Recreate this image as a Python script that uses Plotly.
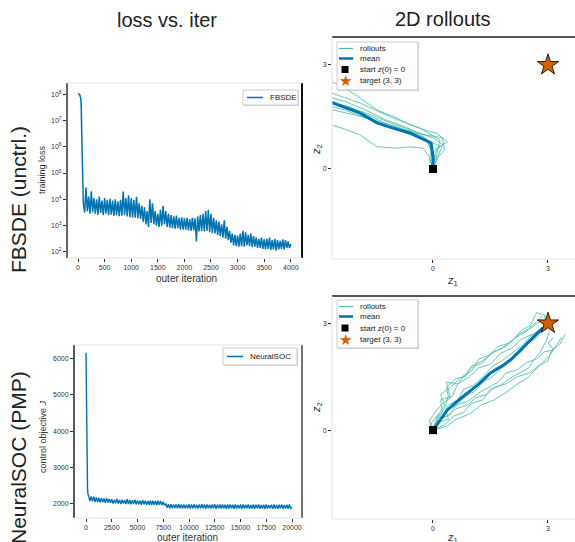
import plotly.graph_objects as go

W, H = 575, 542

# ---------------- data: FBSDE training loss (log10 values) ----------------
fbsde_head_iter = [0, 30, 50, 60, 70, 80, 90, 95]
fbsde_head_log = [8.02, 7.98, 7.85, 7.6, 6.5, 5.5, 4.4, 4.1]
fbsde_block_start = list(range(100, 4000, 50))
fbsde_hi_log = [3.85, 4.45, 4.10, 4.30, 4.05, 4.00, 4.10, 3.95, 4.05, 3.98,
                4.02, 3.95, 4.00, 3.92, 3.98, 4.30, 4.05, 4.15, 4.05, 3.98,
                4.10, 3.85, 3.75, 3.70, 3.55, 4.00, 3.85, 3.55, 3.45, 3.60,
                3.75, 3.55, 3.45, 3.40, 3.35, 3.38, 3.30, 3.32, 3.28, 3.30,
                3.25, 3.30, 3.28, 3.35, 3.40, 3.45, 3.55, 3.60, 3.45, 3.30,
                3.20, 3.15, 3.05, 3.20, 2.95, 2.80, 2.70, 2.65, 2.62, 2.70,
                2.80, 2.75, 2.65, 2.70, 2.60, 2.55, 2.50, 2.55, 2.48, 2.50,
                2.55, 2.45, 2.50, 2.45, 2.42, 2.48, 2.45, 2.40]
fbsde_lo_log = [3.50, 3.55, 3.45, 3.50, 3.45, 3.42, 3.48, 3.40, 3.45, 3.40,
                3.42, 3.38, 3.40, 3.36, 3.38, 3.40, 3.35, 3.32, 3.30, 3.30,
                3.28, 3.25, 3.15, 3.05, 2.95, 3.10, 3.05, 3.00, 2.95, 3.00,
                3.05, 2.95, 2.92, 2.90, 2.88, 2.90, 2.85, 2.85, 2.85, 2.82,
                2.80, 2.82, 2.40, 2.78, 2.80, 2.78, 2.80, 2.75, 2.72, 2.70,
                2.65, 2.60, 2.55, 2.50, 2.45, 2.35, 2.25, 2.22, 2.20, 2.22,
                2.20, 2.25, 2.22, 2.18, 2.20, 2.15, 2.15, 2.12, 2.10, 2.12,
                2.08, 2.10, 2.05, 2.10, 2.12, 2.10, 2.15, 2.15]
fbsde_last_iter = 4000
fbsde_last_log = 2.30

# ---------------- data: NeuralSOC control objective ----------------
soc_head_iter = [0, 50, 100, 150, 200]
soc_head_val = [6150, 4200, 2700, 2400, 2250]
soc_block_start = list(range(250, 20000, 250))
soc_hi = [2230, 2210, 2200,
          2180, 2170, 2160, 2150, 2160, 2140,
          2130, 2120, 2140, 2110, 2120, 2100, 2130, 2110, 2100, 2120,
          2100, 2090, 2110, 2090, 2080, 2100, 2090, 2080, 2090, 2080,
          2060, 2010,
          1990, 1995, 1985, 1990, 2000, 1985, 1990, 1980, 1995, 1985,
          1990, 1980, 1990, 1995, 1985, 1990, 1980, 1985, 1995, 1980,
          1990, 1985, 1980, 1990, 1985, 1980, 1990, 1975, 1985, 1990,
          1980, 1985, 1975, 1990, 1980, 1985, 1975, 1980, 1985, 1975,
          1980, 1985, 1975, 1980, 1990, 1975, 1980, 1985]
soc_lo = [2080, 2070, 2060,
          2050, 2040, 2050, 2030, 2040, 2030,
          2010, 2020, 2010, 2000, 2010, 2000, 2000, 1990, 2000, 1990,
          1990, 1980, 1990, 1980, 1980, 1970, 1980, 1970, 1980, 1970,
          1960, 1900,
          1885, 1880, 1890, 1880, 1885, 1875, 1880, 1885, 1875, 1880,
          1885, 1875, 1880, 1885, 1870, 1880, 1875, 1880, 1870, 1880,
          1875, 1880, 1870, 1875, 1880, 1870, 1875, 1880, 1870, 1875,
          1880, 1870, 1875, 1870, 1880, 1870, 1875, 1870, 1875, 1880,
          1870, 1875, 1870, 1880, 1870, 1875, 1870, 1880]
soc_last_iter = 20000
soc_last_val = 1920

# ---------------- data: 2D rollouts, uncontrolled (FBSDE) ----------------
unc_rollouts_x = [
    [0, -0.09, -0.26, -0.6, -0.94, -1.46, -1.9, -2.3, -2.8],
    [0, 0.02, 0.1, 0.37, 0.1, -0.2, -0.6, -1.0, -1.46, -1.9, -2.35, -2.64, -2.8],
    [0, 0.1, 0.18, -0.34, -1.04, -1.9, -2.64, -2.8],
    [0, 0.05, -0.1, -0.3, -0.7, -1.2, -1.8, -2.3, -2.8],
    [0, -0.1, -0.05, -0.15, -0.5, -1.1, -1.7, -2.3, -2.8],
    [0, 0.05, 0.15, 0.25, 0.05, -0.45, -1.0, -1.6, -2.2, -2.8],
    [0, 0.0, -0.05, 0.2, -0.1, -0.3, -0.8, -1.3, -2.0, -2.8],
    [0, 0.1, 0.3, 0.25, -0.4, -0.9, -1.5, -2.0, -2.8],
]
unc_rollouts_y = [
    [0, 0.35, 0.6, 0.64, 0.6, 0.64, 0.98, 1.15, 1.32],
    [0, 0.2, 0.6, 0.78, 1.03, 1.12, 1.27, 1.5, 1.7, 2.05, 2.37, 2.51, 2.6],
    [0, 0.4, 0.84, 1.18, 1.47, 1.9, 2.19, 2.25],
    [0, 0.35, 0.7, 1.0, 1.2, 1.4, 1.72, 1.95, 2.1],
    [0, 0.25, 0.5, 0.8, 0.95, 1.2, 1.45, 1.7, 1.85],
    [0, 0.15, 0.45, 0.7, 0.88, 1.08, 1.28, 1.55, 1.8, 1.95],
    [0, 0.1, 0.45, 0.65, 0.8, 0.95, 1.15, 1.35, 1.7, 2.0],
    [0, 0.3, 0.55, 0.9, 1.02, 1.2, 1.4, 1.55, 1.75],
]
unc_mean_x = [0, 0.0, -0.05, -0.26, -0.6, -1.04, -1.46, -1.9, -2.35, -2.8]
unc_mean_y = [0, 0.35, 0.75, 0.86, 1.04, 1.18, 1.33, 1.61, 1.79, 1.98]

# ---------------- data: 2D rollouts, controlled (NeuralSOC) ----------------
ctl_rollouts_x = [
    [0, 0.15, 0.1, 0.4, 0.6, 0.9, 1.1, 1.4, 1.6, 1.9, 2.2, 2.5, 2.75, 3.0, 3.1, 3.3, 3.45],
    [0, 0.2, 0.4, 0.35, 0.7, 0.9, 1.2, 1.45, 1.7, 1.9, 2.2, 2.45, 2.7, 2.9, 3.15, 3.0, 3.15],
    [0, 0.1, 0.25, 0.2, 0.5, 0.65, 0.8, 1.0, 1.3, 1.5, 1.8, 2.1, 2.3, 2.55, 2.7, 2.9, 2.95],
    [0, 0.1, 0.3, 0.4, 0.35, 0.6, 0.85, 1.0, 1.3, 1.6, 1.9, 2.15, 2.4, 2.65, 2.85, 3.0],
    [0, -0.1, 0.05, 0.25, 0.45, 0.35, 0.65, 0.95, 1.2, 1.5, 1.75, 2.05, 2.3, 2.6, 2.85, 2.95],
    [0, 0.3, 0.55, 0.8, 1.0, 1.3, 1.5, 1.75, 2.0, 2.25, 2.5, 2.65, 2.8, 2.95, 3.05],
    [0, 0.2, 0.45, 0.6, 0.85, 1.1, 1.3, 1.55, 1.8, 2.05, 2.3, 2.5, 2.7, 2.9],
    [0, 0.25, 0.4, 0.65, 0.8, 1.05, 1.35, 1.55, 1.8, 2.1, 2.35, 2.55, 2.8, 3.05, 3.15],
    [0, -0.05, 0.15, 0.3, 0.2, 0.45, 0.75, 1.0, 1.2, 1.45, 1.7, 2.0, 2.25, 2.5, 2.7, 2.85],
    [0, 0.35, 0.6, 0.95, 1.25, 1.6, 1.9, 2.2, 2.45, 2.7, 2.85, 3.05, 3.2, 3.35],
]
ctl_rollouts_y = [
    [0, 0.15, 0.35, 0.4, 0.6, 0.7, 0.9, 1.0, 1.2, 1.3, 1.5, 1.6, 1.8, 1.95, 2.25, 2.4, 2.7],
    [0, 0.25, 0.3, 0.55, 0.75, 0.8, 1.05, 1.2, 1.35, 1.6, 1.7, 1.9, 2.0, 2.2, 2.25, 2.45, 2.6],
    [0, 0.3, 0.5, 0.85, 0.95, 1.3, 1.5, 1.75, 1.9, 2.15, 2.3, 2.55, 2.8, 2.95, 3.3, 3.25, 3.05],
    [0, 0.35, 0.6, 0.95, 1.2, 1.45, 1.5, 1.8, 1.95, 2.2, 2.35, 2.6, 2.75, 2.95, 3.1, 3.0],
    [0, 0.25, 0.5, 0.75, 0.9, 1.35, 1.3, 1.5, 1.75, 1.85, 2.15, 2.3, 2.55, 2.7, 2.85, 3.0],
    [0, 0.15, 0.4, 0.5, 0.75, 0.85, 1.15, 1.25, 1.45, 1.6, 1.75, 2.0, 2.2, 2.5, 2.8],
    [0, 0.3, 0.45, 0.7, 0.95, 1.1, 1.35, 1.5, 1.75, 1.95, 2.2, 2.45, 2.6, 2.9],
    [0, 0.4, 0.7, 0.85, 1.15, 1.25, 1.55, 1.8, 1.95, 2.2, 2.4, 2.65, 2.75, 2.95, 3.1],
    [0, 0.2, 0.45, 0.7, 1.0, 1.2, 1.5, 1.65, 2.0, 2.1, 2.35, 2.45, 2.7, 2.85, 3.05, 3.2],
    [0, 0.1, 0.3, 0.45, 0.7, 0.85, 1.05, 1.3, 1.45, 1.75, 1.9, 2.1, 2.35, 2.6],
]
ctl_mean_x = [0, 0.2, 0.37, 0.62, 0.89, 1.2, 1.49, 1.83, 2.05, 2.27, 2.61, 2.87]
ctl_mean_y = [0, 0.3, 0.56, 0.8, 1.04, 1.3, 1.6, 1.82, 2.0, 2.24, 2.6, 2.88]

start_pt = (0, 0)
target_pt = (3, 3)

# tick labels
fbsde_xticks = [0, 500, 1000, 1500, 2000, 2500, 3000, 3500, 4000]
fbsde_yticks_exp = [2, 3, 4, 5, 6, 7, 8]
soc_xticks = [0, 2500, 5000, 7500, 10000, 12500, 15000, 17500, 20000]
soc_yticks = [2000, 3000, 4000, 5000, 6000]
z_ticks = [0, 3]

# legend labels
rollout_labels = ["rollouts", "mean", "start <i>z</i>(0) = 0", "target (3, 3)"]

# ---------------- colours ----------------
BLUE = "#0173b2"
TEAL = "#4cc2ad"
ORANGE = "#d55e00"
FONT = "Liberation Sans, Arial, sans-serif"


def px(x):
    return x / W


def py(y):
    return 1 - y / H


# assemble the zig-zag series
fb_x = list(fbsde_head_iter)
fb_y = [10 ** v for v in fbsde_head_log]
for s, h, l in zip(fbsde_block_start, fbsde_hi_log, fbsde_lo_log):
    fb_x += [s, s + 25]
    fb_y += [10 ** h, 10 ** l]
fb_x.append(fbsde_last_iter)
fb_y.append(10 ** fbsde_last_log)

so_x = list(soc_head_iter)
so_y = list(soc_head_val)
for s, h, l in zip(soc_block_start, soc_hi, soc_lo):
    so_x += [s, s + 125]
    so_y += [h, l]
so_x.append(soc_last_iter)
so_y.append(soc_last_val)

fig = go.Figure()

fig.add_trace(go.Scatter(x=fb_x, y=fb_y, mode="lines", name="FBSDE",
                         line=dict(color=BLUE, width=1.5), xaxis="x", yaxis="y"))
fig.add_trace(go.Scatter(x=so_x, y=so_y, mode="lines", name="NeuralSOC",
                         line=dict(color=BLUE, width=1.4), xaxis="x3", yaxis="y3"))


def rollout_panel(xs, ys, mx, my, xa, ya):
    for i, (rx, ry) in enumerate(zip(xs, ys)):
        fig.add_trace(go.Scatter(x=rx, y=ry, mode="lines", name="rollouts",
                                 line=dict(color=TEAL, width=1), opacity=0.85,
                                 xaxis=xa, yaxis=ya))
    fig.add_trace(go.Scatter(x=mx, y=my, mode="lines", name="mean",
                             line=dict(color=BLUE, width=3), xaxis=xa, yaxis=ya))
    fig.add_trace(go.Scatter(x=[start_pt[0]], y=[start_pt[1]], mode="markers",
                             name="start",
                             marker=dict(symbol="square", size=8, color="black"),
                             xaxis=xa, yaxis=ya))
    fig.add_trace(go.Scatter(x=[target_pt[0]], y=[target_pt[1]], mode="markers",
                             name="target",
                             marker=dict(symbol="star", size=16, color=ORANGE,
                                         line=dict(color="black", width=0.8)),
                             xaxis=xa, yaxis=ya))


rollout_panel(unc_rollouts_x, unc_rollouts_y, unc_mean_x, unc_mean_y, "x2", "y2")
rollout_panel(ctl_rollouts_x, ctl_rollouts_y, ctl_mean_x, ctl_mean_y, "x4", "y4")

tickfont = dict(size=7, color="#333", family=FONT)
common_ax = dict(showgrid=False, zeroline=False, showline=False, ticks="outside",
                 ticklen=3, tickwidth=1, tickcolor="#333", tickfont=tickfont)

fig.update_layout(
    width=W, height=H, autosize=False, showlegend=False,
    margin=dict(l=0, r=0, t=0, b=0),
    paper_bgcolor="white", plot_bgcolor="white",
    font=dict(family=FONT, color="#222"),
    xaxis=dict(domain=[px(67), px(302)], range=[-207, 4211], anchor="y",
               tickvals=fbsde_xticks, ticktext=[str(v) for v in fbsde_xticks], **common_ax),
    yaxis=dict(domain=[py(258), py(83)], type="log", range=[1.77, 8.42], anchor="x",
               tickvals=[10 ** e for e in fbsde_yticks_exp],
               ticktext=["10<sup>%d</sup>" % e for e in fbsde_yticks_exp], **common_ax),
    xaxis2=dict(domain=[px(332), 1.0], range=[-2.635, 3.705], anchor="y2",
                tickvals=z_ticks, ticktext=[str(v) for v in z_ticks], **common_ax),
    yaxis2=dict(domain=[py(259), py(37)], range=[-2.596, 3.807], anchor="x2",
                tickvals=z_ticks, ticktext=[str(v) for v in z_ticks], **common_ax),
    xaxis3=dict(domain=[px(74), px(302)], range=[-1165, 20971], anchor="y3",
                tickvals=soc_xticks, ticktext=[str(v) for v in soc_xticks], **common_ax),
    yaxis3=dict(domain=[py(518), py(345)], range=[1615, 6365], anchor="x3",
                tickvals=soc_yticks, ticktext=[str(v) for v in soc_yticks], **common_ax),
    xaxis4=dict(domain=[px(332), 1.0], range=[-2.635, 3.705], anchor="y4",
                tickvals=z_ticks, ticktext=[str(v) for v in z_ticks], **common_ax),
    yaxis4=dict(domain=[py(519), py(296)], range=[-2.5, 3.77], anchor="x4",
                tickvals=z_ticks, ticktext=[str(v) for v in z_ticks], **common_ax),
)


# spines
def spine(xa, ya, x0, y0, x1, y1, color, width):
    fig.add_shape(type="line", xref=xa + " domain", yref=ya + " domain",
                  x0=x0, y0=y0, x1=x1, y1=y1, line=dict(color=color, width=width))


LIGHT = "#e3e3e3"
spine("x", "y", 0, 0, 0, 1, "#333333", 1.5)
spine("x", "y", 1, 0, 1, 1, "#111111", 2)
spine("x", "y", 0, 1, 1, 1, LIGHT, 1)
spine("x", "y", 0, 0, 1, 0, LIGHT, 1)

spine("x3", "y3", 0, 0, 0, 1, "#222222", 1.5)
spine("x3", "y3", 1, 0, 1, 1, "#444444", 1.5)
spine("x3", "y3", 0, 1, 1, 1, LIGHT, 1)
spine("x3", "y3", 0, 0, 1, 0, LIGHT, 1)

for xa, ya in (("x2", "y2"), ("x4", "y4")):
    spine(xa, ya, 0, 1, 1, 1, "#555555", 2)
    spine(xa, ya, 0, 0, 0, 1, LIGHT, 1)
    spine(xa, ya, 0, 0, 1, 0, LIGHT, 1)


# text helpers
def ann(text, x, y, size, angle=0, color="#222", xanchor="center"):
    fig.add_annotation(text=text, x=px(x), y=py(y), xref="paper", yref="paper",
                       showarrow=False, textangle=angle, xanchor=xanchor, yanchor="middle",
                       font=dict(size=size, family=FONT, color=color))


def pbox(x0, y0, x1, y1):
    fig.add_shape(type="rect", xref="paper", yref="paper",
                  x0=px(x0 + 1), y0=py(y1 + 1), x1=px(x1 + 1), y1=py(y0 + 1),
                  line=dict(width=0), fillcolor="rgba(0,0,0,0.18)")
    fig.add_shape(type="rect", xref="paper", yref="paper",
                  x0=px(x0), y0=py(y1), x1=px(x1), y1=py(y0),
                  line=dict(color="#cccccc", width=1), fillcolor="rgba(255,255,255,0.95)")


def pline(x0, x1, y, color, width):
    fig.add_shape(type="line", xref="paper", yref="paper",
                  x0=px(x0), y0=py(y), x1=px(x1), y1=py(y),
                  line=dict(color=color, width=width))


def line_legend(label, x0, y0, x1, y1):
    pbox(x0, y0, x1, y1)
    ym = (y0 + y1) / 2
    pline(x0 + 4, x0 + 20, ym, BLUE, 1.5)
    ann(label, x0 + 25, ym, 8, 0, "#222", "left")


def rollout_legend(x0, y0, rows):
    pbox(x0, y0, x0 + 81, y0 + 48)
    pline(x0 + 2, x0 + 16, rows[0], TEAL, 1.2)
    pline(x0 + 2, x0 + 16, rows[1], BLUE, 2.5)
    fig.add_shape(type="rect", xref="paper", yref="paper",
                  x0=px(x0 + 4.5), y0=py(rows[2] + 3.5), x1=px(x0 + 11.5), y1=py(rows[2] - 3.5),
                  line=dict(width=0), fillcolor="black")
    ann("\u2605", x0 + 8, rows[3] - 0.5, 15, 0, ORANGE)
    for lab, yy in zip(rollout_labels, rows):
        ann(lab, x0 + 21, yy, 8, 0, "#222", "left")


line_legend("FBSDE", 243, 90, 298, 105)
line_legend("NeuralSOC", 223, 348, 297, 365)
rollout_legend(337, 42, [48.5, 58.5, 69.5, 80.5])
rollout_legend(337, 300, [306.5, 316.5, 328, 339.5])

ann("loss vs. iter", 167, 20, 20)
ann("2D rollouts", 443, 19, 20)
ann("FBSDE (unctrl.)", 18, 200, 21, -90)
ann("NeuralSOC (PMP)", 18, 458, 21, -90)
ann("training loss", 42, 170, 9, -90, "#333")
ann("control objective <i>J</i>", 43, 437, 9, -90, "#333")
ann("outer iteration", 186, 278, 10, 0, "#333")
ann("outer iteration", 187, 537, 10, 0, "#333")
ann("<i>z</i><sub>1</sub>", 452, 281, 11, 0, "#333")
ann("<i>z</i><sub>1</sub>", 452, 538, 11, 0, "#333")
ann("<i>z</i><sub>2</sub>", 317, 150, 11, -90, "#333")
ann("<i>z</i><sub>2</sub>", 317, 408, 11, -90, "#333")

fig.write_html("out.html", config={"displayModeBar": False},
               post_script="document.body.style.margin='0px';document.body.style.padding='0px';"
                           "document.documentElement.style.overflow='hidden';")
